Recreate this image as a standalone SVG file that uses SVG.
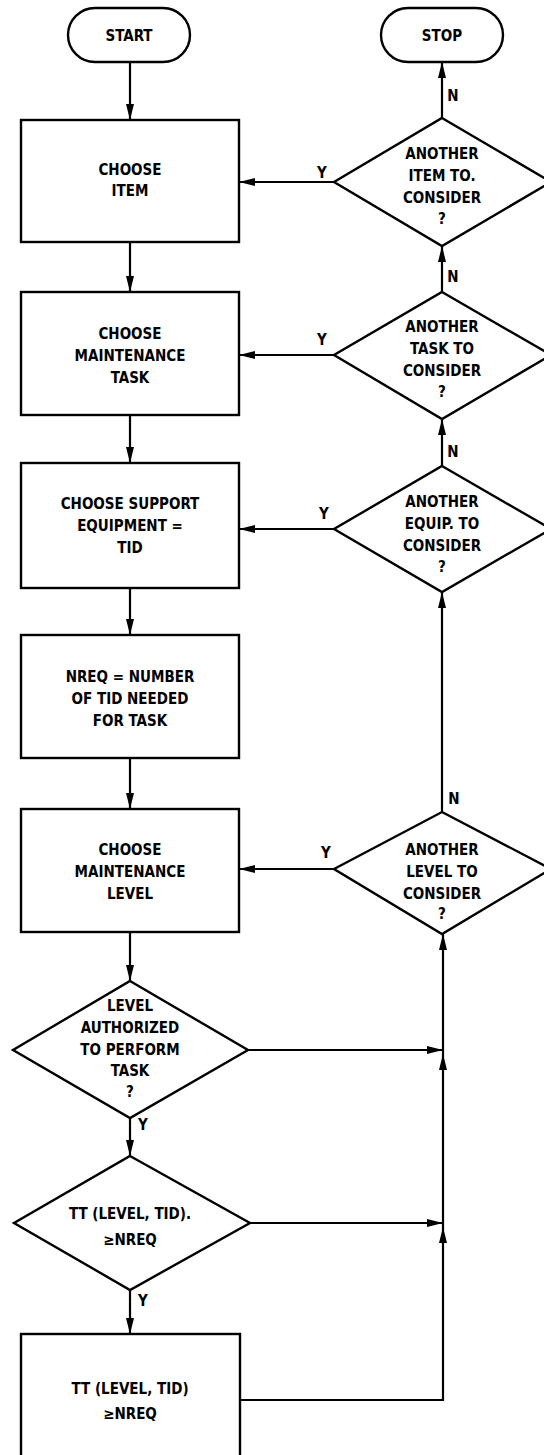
<svg xmlns="http://www.w3.org/2000/svg" width="544" height="1455" viewBox="0 0 544 1455">
  <style>
    .shape { fill: #ffffff; stroke: #000000; stroke-width: 2.4; }
    .wire { fill: none; stroke: #000000; stroke-width: 2.2; }
    .t { font-family: "DejaVu Sans Condensed", "DejaVu Sans", "Liberation Sans", sans-serif; font-weight: bold; font-size: 15px; text-anchor: middle; fill: #000000; }
    .lbl { font-family: "DejaVu Sans Condensed", "DejaVu Sans", "Liberation Sans", sans-serif; font-weight: bold; font-size: 15px; text-anchor: middle; fill: #000000; }
  </style>
  <defs>
    <marker id="arrow" markerUnits="userSpaceOnUse" markerWidth="16" markerHeight="10" refX="16" refY="5" orient="auto">
      <path d="M0,1 L16,5 L0,9 z" fill="#000000"/>
    </marker>
  </defs>
  <rect width="544" height="1455" fill="#ffffff"/>

  <!-- connectors -->
  <g id="connectors">
    <!-- main column, top to bottom -->
    <line class="wire" x1="130" y1="62" x2="130" y2="120" marker-end="url(#arrow)"/>
    <line class="wire" x1="130" y1="242" x2="130" y2="292" marker-end="url(#arrow)"/>
    <line class="wire" x1="130" y1="415" x2="130" y2="463" marker-end="url(#arrow)"/>
    <line class="wire" x1="130" y1="588" x2="130" y2="635" marker-end="url(#arrow)"/>
    <line class="wire" x1="130" y1="758" x2="130" y2="809" marker-end="url(#arrow)"/>
    <line class="wire" x1="130" y1="932" x2="130" y2="981" marker-end="url(#arrow)"/>
    <line class="wire" x1="130" y1="1118" x2="130" y2="1156" marker-end="url(#arrow)"/>
    <line class="wire" x1="130" y1="1290" x2="130" y2="1334" marker-end="url(#arrow)"/>

    <!-- "Y" branches back into the choice boxes -->
    <line class="wire" x1="334" y1="182" x2="239" y2="182" marker-end="url(#arrow)"/>
    <line class="wire" x1="334" y1="355" x2="239" y2="355" marker-end="url(#arrow)"/>
    <line class="wire" x1="334" y1="529" x2="239" y2="529" marker-end="url(#arrow)"/>
    <line class="wire" x1="334" y1="869" x2="239" y2="869" marker-end="url(#arrow)"/>

    <!-- "N" branches up the right column -->
    <line class="wire" x1="442" y1="118" x2="442" y2="62" marker-end="url(#arrow)"/>
    <line class="wire" x1="442" y1="292" x2="442" y2="246" marker-end="url(#arrow)"/>
    <line class="wire" x1="442" y1="466" x2="442" y2="419" marker-end="url(#arrow)"/>
    <line class="wire" x1="442" y1="812" x2="442" y2="592" marker-end="url(#arrow)"/>

    <!-- return path to the level loop -->
    <line class="wire" x1="248" y1="1050" x2="443" y2="1050" marker-end="url(#arrow)"/>
    <line class="wire" x1="250" y1="1223" x2="443" y2="1223" marker-end="url(#arrow)"/>
    <polyline class="wire" points="240,1400 443,1400 443,1227" marker-end="url(#arrow)"/>
    <line class="wire" x1="443" y1="1227" x2="443" y2="1054" marker-end="url(#arrow)"/>
    <line class="wire" x1="443" y1="1054" x2="443" y2="934" marker-end="url(#arrow)"/>

    <!-- branch labels -->
    <text class="lbl" x="322" y="178">Y</text>
    <text class="lbl" x="322" y="345">Y</text>
    <text class="lbl" x="324" y="519">Y</text>
    <text class="lbl" x="326" y="858">Y</text>
    <text class="lbl" x="453" y="101">N</text>
    <text class="lbl" x="453" y="282">N</text>
    <text class="lbl" x="453" y="457">N</text>
    <text class="lbl" x="454" y="804">N</text>
    <text class="lbl" x="143" y="1130">Y</text>
    <text class="lbl" x="143" y="1306">Y</text>
  </g>

  <g id="start">
    <rect class="shape" x="68" y="8" width="122" height="54" rx="27"/>
    <text class="t" x="129" y="41">START</text>
  </g>

  <g id="stop">
    <rect class="shape" x="381" y="8" width="122" height="54" rx="27"/>
    <text class="t" x="442" y="41">STOP</text>
  </g>

  <g id="choose-item">
    <rect class="shape" x="21" y="120" width="218" height="122"/>
    <text class="t" x="130" y="175">CHOOSE</text>
    <text class="t" x="130" y="196">ITEM</text>
  </g>

  <g id="another-item">
    <polygon class="shape" points="442,118 551,182 442,246 334,182"/>
    <text class="t" x="442" y="159">ANOTHER</text>
    <text class="t" x="442" y="181">ITEM TO.</text>
    <text class="t" x="442" y="203">CONSIDER</text>
    <text class="t" x="442" y="224">?</text>
  </g>

  <g id="choose-task">
    <rect class="shape" x="21" y="292" width="218" height="123"/>
    <text class="t" x="130" y="339">CHOOSE</text>
    <text class="t" x="130" y="361">MAINTENANCE</text>
    <text class="t" x="130" y="383">TASK</text>
  </g>

  <g id="another-task">
    <polygon class="shape" points="442,292 551,355 442,419 334,355"/>
    <text class="t" x="442" y="332">ANOTHER</text>
    <text class="t" x="442" y="354">TASK TO</text>
    <text class="t" x="442" y="376">CONSIDER</text>
    <text class="t" x="442" y="397">?</text>
  </g>

  <g id="choose-equipment">
    <rect class="shape" x="21" y="463" width="218" height="125"/>
    <text class="t" x="130" y="509">CHOOSE SUPPORT</text>
    <text class="t" x="130" y="531">EQUIPMENT =</text>
    <text class="t" x="130" y="553">TID</text>
  </g>

  <g id="another-equipment">
    <polygon class="shape" points="442,466 551,529 442,592 334,529"/>
    <text class="t" x="442" y="507">ANOTHER</text>
    <text class="t" x="442" y="529">EQUIP. TO</text>
    <text class="t" x="442" y="551">CONSIDER</text>
    <text class="t" x="442" y="572">?</text>
  </g>

  <g id="number-needed">
    <rect class="shape" x="21" y="635" width="218" height="123"/>
    <text class="t" x="130" y="682">NREQ = NUMBER</text>
    <text class="t" x="130" y="704">OF TID NEEDED</text>
    <text class="t" x="130" y="726">FOR TASK</text>
  </g>

  <g id="choose-level">
    <rect class="shape" x="21" y="809" width="218" height="123"/>
    <text class="t" x="130" y="855">CHOOSE</text>
    <text class="t" x="130" y="877">MAINTENANCE</text>
    <text class="t" x="130" y="899">LEVEL</text>
  </g>

  <g id="another-level">
    <polygon class="shape" points="442,812 551,869 442,934 334,869"/>
    <text class="t" x="442" y="855">ANOTHER</text>
    <text class="t" x="442" y="877">LEVEL TO</text>
    <text class="t" x="442" y="899">CONSIDER</text>
    <text class="t" x="442" y="919">?</text>
  </g>

  <g id="level-authorized">
    <polygon class="shape" points="130,981 248,1050 130,1118 13,1050"/>
    <text class="t" x="130" y="1011">LEVEL</text>
    <text class="t" x="130" y="1033">AUTHORIZED</text>
    <text class="t" x="130" y="1055">TO PERFORM</text>
    <text class="t" x="130" y="1076">TASK</text>
    <text class="t" x="130" y="1097">?</text>
  </g>

  <g id="enough-check">
    <polygon class="shape" points="130,1156 250,1223 130,1290 14,1223"/>
    <text class="t" x="130" y="1219">TT (LEVEL, TID).</text>
    <text class="t" x="130" y="1245">≥NREQ</text>
  </g>

  <g id="result-box">
    <rect class="shape" x="21" y="1334" width="219" height="130"/>
    <text class="t" x="130" y="1394">TT (LEVEL, TID)</text>
    <text class="t" x="130" y="1419">≥NREQ</text>
  </g>
</svg>
